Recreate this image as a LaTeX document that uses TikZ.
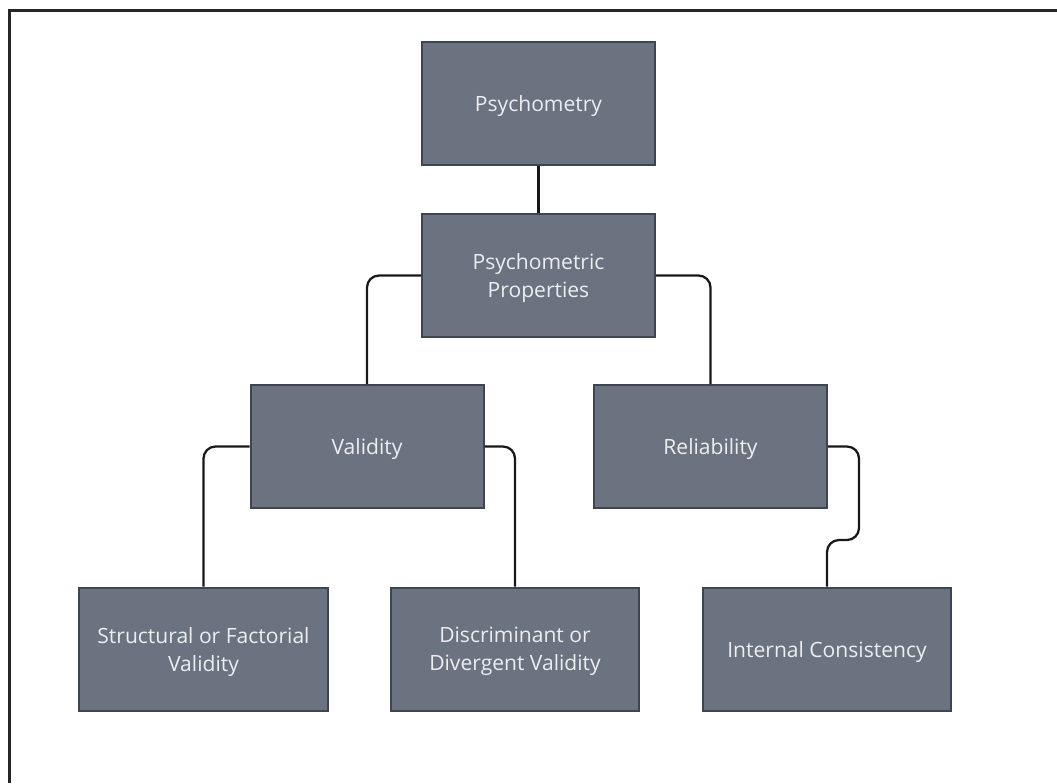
\documentclass[tikz,border=0pt]{standalone}
\usepackage{fontspec}
\setmainfont{Open Sans}
\usetikzlibrary{calc}

\definecolor{boxfill}{RGB}{107,114,128}
\definecolor{boxline}{RGB}{62,68,80}
\definecolor{boxtext}{RGB}{236,238,241}
\definecolor{linkcol}{RGB}{24,24,24}

\begin{document}
\begin{tikzpicture}[x=0.75pt,y=-0.75pt,
  box/.style={draw=boxline, line width=1.5pt, fill=boxfill, text=boxtext, minimum width=174.75pt, minimum height=92.25pt, inner sep=0pt, text depth=0pt, align=center, font=\fontsize{15.8}{21}\selectfont},
  widebox/.style={box, minimum width=186.5pt},
  link/.style={draw=linkcol, line width=1.7pt, rounded corners=9pt}]
\useasboundingbox (0,0) rectangle (1057,783);
\draw[draw=black!85, line width=2.2pt] (1057,10.5) -- (9.5,10.5) -- (9.5,783);

\node[box] (psy) at (538.5,103.5) {Psychometry};
\node[box] (prop) at (538.5,275.5) {Psychometric\\Properties};
\node[box] (val) at (367,446.5) {Validity};
\node[box] (rel) at (710.5,446.5) {Reliability};
\node[widebox] (struct) at (203.5,649) {Structural or Factorial\\Validity};
\node[widebox] (disc) at (515,649) {Discriminant or\\Divergent Validity};
\node[widebox] (cons) at (827,649) {Internal Consistency};
\coordinate (bend) at (859,540);

\draw[link] (psy.south) -- (prop.north);
\draw[link] (prop.west) -| (val.north);
\draw[link] (prop.east) -| (rel.north);
\draw[link] (val.west) -| (struct.north);
\draw[link] (val.east) -| (disc.north);
\draw[link] (rel.east) -| (bend) -| (cons.north);
\end{tikzpicture}
\end{document}
